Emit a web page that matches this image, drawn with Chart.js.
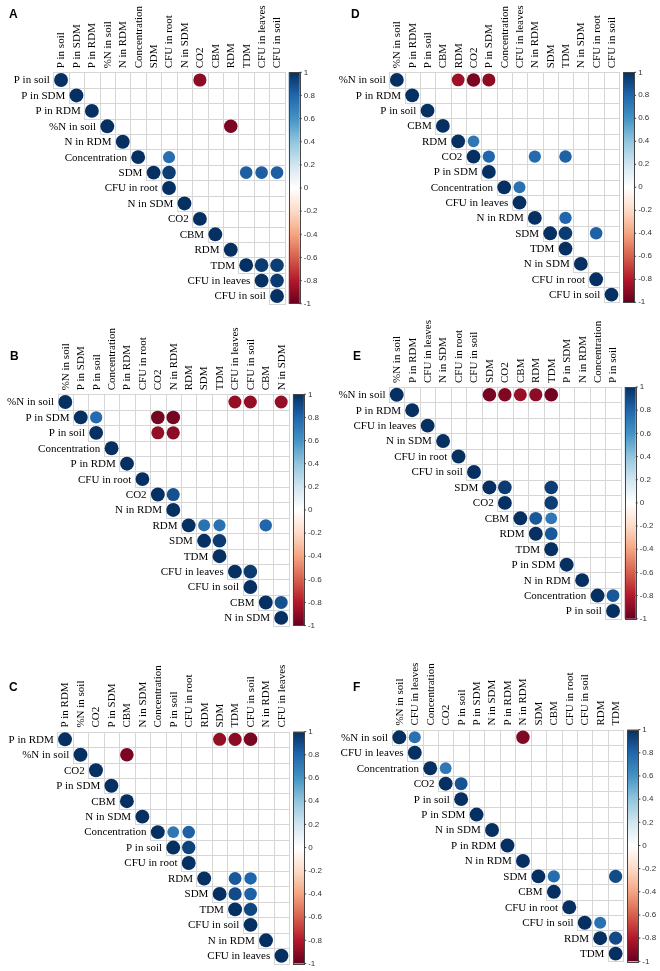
<!DOCTYPE html>
<html>
<head>
<meta charset="utf-8">
<script src="https://cdn.jsdelivr.net/npm/chart.js@4"></script>
<style>
  body { margin: 0; background: #fff; }
  #wrap { position: relative; width: 660px; height: 971px; }
  #wrap canvas { position: absolute; left: 0; top: 0; }
</style>
</head>
<body>
<div id="wrap"></div>
<script>
// variable order of each panel (rows = columns)
const varsA = ['P in soil', 'P in SDM', 'P in RDM', '%N in soil', 'N in RDM', 'Concentration', 'SDM', 'CFU in root', 'N in SDM', 'CO2', 'CBM', 'RDM', 'TDM', 'CFU in leaves', 'CFU in soil'];
const varsB = ['%N in soil', 'P in SDM', 'P in soil', 'Concentration', 'P in RDM', 'CFU in root', 'CO2', 'N in RDM', 'RDM', 'SDM', 'TDM', 'CFU in leaves', 'CFU in soil', 'CBM', 'N in SDM'];
const varsC = ['P in RDM', '%N in soil', 'CO2', 'P in SDM', 'CBM', 'N in SDM', 'Concentration', 'P in soil', 'CFU in root', 'RDM', 'SDM', 'TDM', 'CFU in soil', 'N in RDM', 'CFU in leaves'];
const varsD = ['%N in soil', 'P in RDM', 'P in soil', 'CBM', 'RDM', 'CO2', 'P in SDM', 'Concentration', 'CFU in leaves', 'N in RDM', 'SDM', 'TDM', 'N in SDM', 'CFU in root', 'CFU in soil'];
const varsE = ['%N in soil', 'P in RDM', 'CFU in leaves', 'N in SDM', 'CFU in root', 'CFU in soil', 'SDM', 'CO2', 'CBM', 'RDM', 'TDM', 'P in SDM', 'N in RDM', 'Concentration', 'P in soil'];
const varsF = ['%N in soil', 'CFU in leaves', 'Concentration', 'CO2', 'P in soil', 'P in SDM', 'N in SDM', 'P in RDM', 'N in RDM', 'SDM', 'CBM', 'CFU in root', 'CFU in soil', 'RDM', 'TDM'];

// significant off-diagonal correlations [row, column, r] (diagonal is 1)
const corrA = [
  ['P in soil', 'CO2', -0.9], ['%N in soil', 'RDM', -0.95],
  ['Concentration', 'CFU in root', 0.76],
  ['SDM', 'CFU in root', 0.95], ['SDM', 'TDM', 0.83], ['SDM', 'CFU in leaves', 0.83], ['SDM', 'CFU in soil', 0.83],
  ['TDM', 'CFU in leaves', 0.96], ['TDM', 'CFU in soil', 0.95], ['CFU in leaves', 'CFU in soil', 0.96]
];
const corrB = [
  ['%N in soil', 'CFU in leaves', -0.88], ['%N in soil', 'CFU in soil', -0.88], ['%N in soil', 'N in SDM', -0.88],
  ['P in SDM', 'P in soil', 0.78], ['P in SDM', 'CO2', -0.96], ['P in SDM', 'N in RDM', -0.96],
  ['P in soil', 'CO2', -0.88], ['P in soil', 'N in RDM', -0.9],
  ['CO2', 'N in RDM', 0.88],
  ['RDM', 'SDM', 0.75], ['RDM', 'TDM', 0.75], ['RDM', 'CBM', 0.8],
  ['SDM', 'TDM', 0.96], ['CFU in leaves', 'CFU in soil', 0.96], ['CBM', 'N in SDM', 0.88]
];
const corrC = [
  ['P in RDM', 'SDM', -0.88], ['P in RDM', 'TDM', -0.9], ['P in RDM', 'CFU in soil', -0.95],
  ['%N in soil', 'CBM', -0.95],
  ['Concentration', 'P in soil', 0.72], ['Concentration', 'CFU in root', 0.82],
  ['P in soil', 'CFU in root', 0.93],
  ['RDM', 'TDM', 0.85], ['RDM', 'CFU in soil', 0.8],
  ['SDM', 'TDM', 0.9], ['SDM', 'CFU in soil', 0.82], ['TDM', 'CFU in soil', 0.92]
];
const corrD = [
  ['%N in soil', 'RDM', -0.86], ['%N in soil', 'CO2', -0.95], ['%N in soil', 'P in SDM', -0.9],
  ['RDM', 'CO2', 0.72],
  ['CO2', 'P in SDM', 0.8], ['CO2', 'N in RDM', 0.78], ['CO2', 'TDM', 0.82],
  ['Concentration', 'CFU in leaves', 0.75],
  ['N in RDM', 'TDM', 0.8], ['SDM', 'TDM', 0.96], ['SDM', 'CFU in root', 0.82]
];
const corrE = [
  ['%N in soil', 'SDM', -0.96], ['%N in soil', 'CO2', -0.93], ['%N in soil', 'CBM', -0.87], ['%N in soil', 'RDM', -0.9], ['%N in soil', 'TDM', -0.97],
  ['SDM', 'CO2', 0.96], ['SDM', 'TDM', 0.95], ['CO2', 'TDM', 0.95],
  ['CBM', 'RDM', 0.85], ['CBM', 'TDM', 0.72], ['RDM', 'TDM', 0.85],
  ['Concentration', 'P in soil', 0.85]
];
const corrF = [
  ['%N in soil', 'CFU in leaves', 0.75], ['%N in soil', 'N in RDM', -0.93],
  ['Concentration', 'CO2', 0.72], ['CO2', 'P in soil', 0.87],
  ['SDM', 'CBM', 0.77], ['SDM', 'TDM', 0.9],
  ['CFU in soil', 'RDM', 0.75], ['RDM', 'TDM', 0.9]
];

// colour bar tick labels, bottom to top
const barTicks = ['-1', '-0.8', '-0.6', '-0.4', '-0.2', '0', '0.2', '0.4', '0.6', '0.8', '1'];

// corrplot RdBu palette, -1 .. 1
const rdbu = ['#67001F', '#B2182B', '#D6604D', '#F4A582', '#FDDBC7', '#FFFFFF', '#D1E5F0', '#92C5DE', '#4393C3', '#2166AC', '#053061'];

function hexRgb(h) {
  return [parseInt(h.slice(1, 3), 16), parseInt(h.slice(3, 5), 16), parseInt(h.slice(5, 7), 16)];
}
function corrColor(v) {
  const t = (v + 1) / 2 * 10;
  const i = Math.min(9, Math.floor(t));
  const f = t - i;
  const a = hexRgb(rdbu[i]), b = hexRgb(rdbu[i + 1]);
  return 'rgb(' + a.map((c, k) => Math.round(c + (b[k] - c) * f)).join(',') + ')';
}

// panel placement (grid top-left corner and cell size in page pixels)
const panels = [
  { letter: 'A', vars: varsA, corr: corrA, left: 53.3, top: 72.3, cell: 15.43, lx: 9, ly: 18 },
  { letter: 'D', vars: varsD, corr: corrD, left: 389.2, top: 72.3, cell: 15.33, lx: 351, ly: 18 },
  { letter: 'B', vars: varsB, corr: corrB, left: 57.6, top: 394.3, cell: 15.42, lx: 10, ly: 360 },
  { letter: 'E', vars: varsE, corr: corrE, left: 389.0, top: 387.0, cell: 15.45, lx: 353, ly: 360 },
  { letter: 'C', vars: varsC, corr: corrC, left: 57.3, top: 731.6, cell: 15.46, lx: 9, ly: 691 },
  { letter: 'F', vars: varsF, corr: corrF, left: 391.6, top: 729.6, cell: 15.45, lx: 353, ly: 691 }
];

const corrplot = {
  id: 'corrplot',
  beforeDatasetsDraw(chart, args, opts) {
    const { ctx } = chart;
    const xs = chart.scales.x, ys = chart.scales.y;
    const n = opts.vars.length;
    ctx.save();
    ctx.strokeStyle = '#d6d6d6';
    ctx.lineWidth = 1;
    for (let i = 0; i < n; i++) {
      for (let j = i; j < n; j++) {
        const x0 = Math.round(xs.getPixelForValue(j)) + 0.5;
        const x1 = Math.round(xs.getPixelForValue(j + 1)) + 0.5;
        const y0 = Math.round(ys.getPixelForValue(i)) + 0.5;
        const y1 = Math.round(ys.getPixelForValue(i + 1)) + 0.5;
        ctx.strokeRect(x0, y0, x1 - x0, y1 - y0);
      }
    }
    ctx.restore();
  },
  afterDraw(chart, args, opts) {
    const { ctx, chartArea } = chart;
    const xs = chart.scales.x, ys = chart.scales.y;
    const n = opts.vars.length;
    ctx.save();
    ctx.fillStyle = '#000';
    ctx.font = '11px "Liberation Serif", "Times New Roman", serif';
    // row labels, right before the diagonal cell
    ctx.textAlign = 'right';
    ctx.textBaseline = 'middle';
    opts.vars.forEach((name, i) => {
      ctx.fillText(name, xs.getPixelForValue(i) - 3.5, ys.getPixelForValue(i + 0.5) + 0.5);
    });
    // column labels, rotated above the grid
    opts.vars.forEach((name, j) => {
      ctx.save();
      ctx.translate(xs.getPixelForValue(j + 0.5) + 0.5, chartArea.top - 4);
      ctx.rotate(-Math.PI / 2);
      ctx.textAlign = 'left';
      ctx.textBaseline = 'middle';
      ctx.fillText(name, 0, 0);
      ctx.restore();
    });
    // colour bar
    const bx = chartArea.right + 4, bw = 11;
    const by0 = chartArea.top, by1 = chartArea.bottom;
    const grad = ctx.createLinearGradient(0, by1, 0, by0);
    rdbu.forEach((c, k) => grad.addColorStop(k / (rdbu.length - 1), c));
    ctx.fillStyle = grad;
    ctx.fillRect(bx, by0, bw, by1 - by0);
    ctx.strokeStyle = '#444';
    ctx.lineWidth = 1;
    ctx.strokeRect(Math.round(bx) + 0.5, Math.round(by0) + 0.5, bw, Math.round(by1 - by0));
    ctx.font = '8px "Liberation Sans", Arial, sans-serif';
    ctx.fillStyle = '#333';
    ctx.textAlign = 'left';
    ctx.textBaseline = 'middle';
    barTicks.forEach((t, k) => {
      const y = by1 - (by1 - by0) * k / (barTicks.length - 1);
      ctx.beginPath();
      ctx.moveTo(bx + bw, y);
      ctx.lineTo(bx + bw + 2, y);
      ctx.stroke();
      ctx.fillText(t, bx + bw + 4, y);
    });
    // panel letter
    ctx.fillStyle = '#000';
    ctx.font = 'bold 12px "Liberation Sans", Arial, sans-serif';
    ctx.textBaseline = 'alphabetic';
    ctx.fillText(opts.letter, opts.lx, opts.ly);
    ctx.restore();
  }
};

const wrap = document.getElementById('wrap');
panels.forEach(p => {
  const canvas = document.createElement('canvas');
  canvas.width = 660;
  canvas.height = 971;
  wrap.appendChild(canvas);
  const n = p.vars.length;
  const size = p.cell * n;
  const points = p.vars.map((v, i) => ({ x: i + 0.5, y: i + 0.5, v: 1 }));
  p.corr.forEach(([a, b, r]) => {
    points.push({ x: p.vars.indexOf(b) + 0.5, y: p.vars.indexOf(a) + 0.5, v: r });
  });
  new Chart(canvas, {
    type: 'scatter',
    data: {
      datasets: [{
        data: points,
        pointRadius: ctx => {
          const xs = ctx.chart.scales.x;
          const cell = xs.getPixelForValue(1) - xs.getPixelForValue(0);
          return 0.45 * Math.sqrt(Math.abs(ctx.raw.v)) * cell;
        },
        pointBackgroundColor: ctx => corrColor(ctx.raw.v),
        pointBorderColor: ctx => corrColor(ctx.raw.v),
        pointBorderWidth: 0,
        clip: false
      }]
    },
    options: {
      responsive: false,
      animation: false,
      events: [],
      layout: {
        padding: { left: p.left, top: p.top, right: 660 - p.left - size, bottom: 971 - p.top - size }
      },
      scales: {
        x: { type: 'linear', min: 0, max: n, display: false },
        y: { type: 'linear', min: 0, max: n, reverse: true, display: false }
      },
      plugins: {
        legend: { display: false },
        tooltip: { enabled: false },
        corrplot: { vars: p.vars, letter: p.letter, lx: p.lx, ly: p.ly }
      }
    },
    plugins: [corrplot]
  });
});
</script>
</body>
</html>
